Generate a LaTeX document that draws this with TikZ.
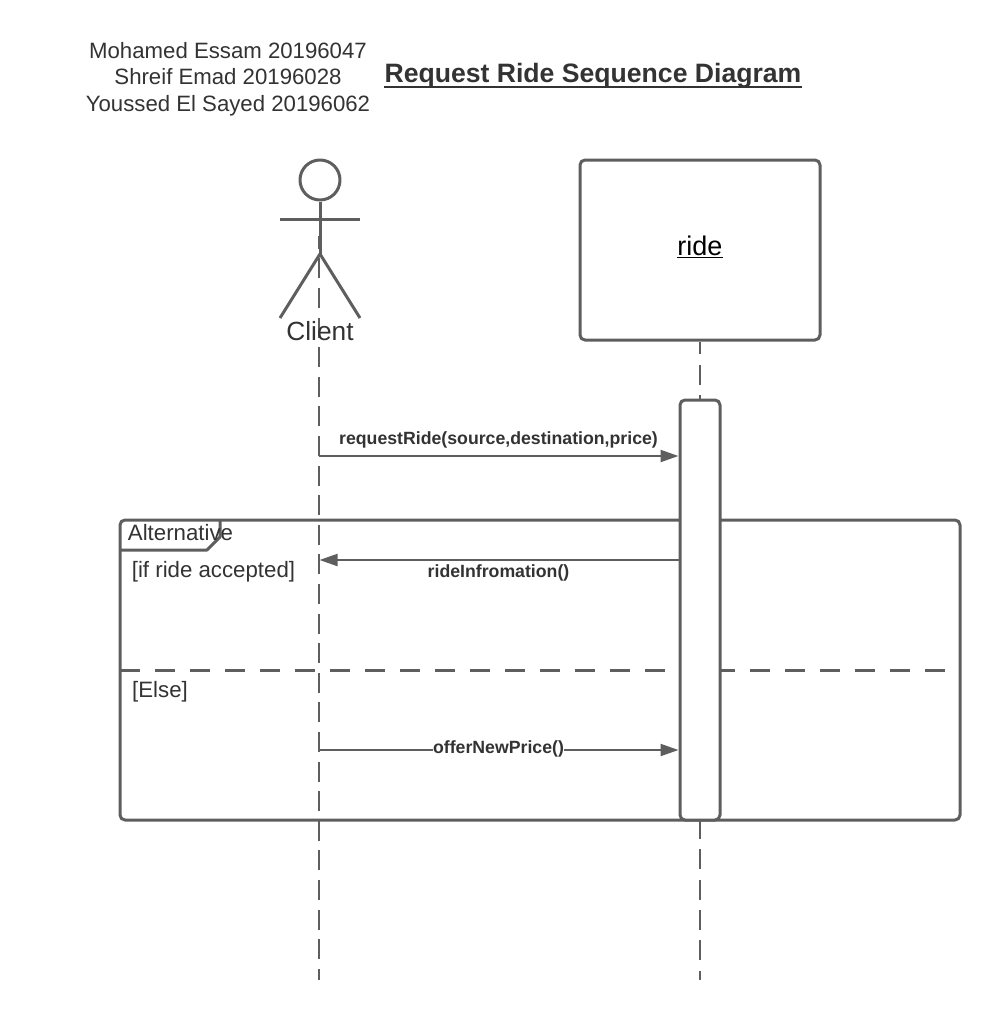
\documentclass[tikz,border=0pt]{standalone}
\usepackage{fontspec}
\setmainfont{Liberation Sans}
\usetikzlibrary{arrows.meta}
\definecolor{ln}{HTML}{5E5E5E}
\definecolor{tx}{HTML}{333333}
\tikzset{
  x=1pt,y=-1pt,
  frameline/.style={draw=ln,line width=3pt,line join=round},
  lifeline/.style={draw=ln,line width=2pt},
  msg/.style={draw=ln,line width=2pt,-{Triangle[length=18pt,width=12pt,fill=ln]},shorten >=1.5pt},
  lbl/.style={inner sep=0pt,text=tx,font=\fontsize{22.25}{26.7}\selectfont,anchor=base},
  msglbl/.style={inner sep=0pt,text=tx,font=\fontsize{17.7}{20}\selectfont\bfseries,anchor=base},
}
\begin{document}
\begin{tikzpicture}
\useasboundingbox[fill=white] (0,0) rectangle (1000,1020);
% title
\node[lbl,align=center,anchor=north,font=\fontsize{22.2}{26.7}\selectfont] (authors) at (228,42) {Mohamed Essam 20196047\\Shreif Emad 20196028\\Youssed El Sayed 20196062};
\node[lbl,font=\fontsize{26.6}{30}\selectfont\bfseries] (title) at (593,82) {Request Ride Sequence Diagram};
\draw[draw=tx,line width=2.5pt] (title.base west) ++(0,5) -- ([yshift=-5pt]title.base east);
% coordinates
\coordinate (clientTop) at (319,236);
\coordinate (clientEnd) at (319,980);
\coordinate (rideEnd) at (700,980);
\coordinate (sep1) at (120,670);
\coordinate (sep2) at (960,670);
% fragment
\draw[frameline,rounded corners=5pt] (120,520) rectangle (960,820);
\draw[frameline] (120,550) -- (207,550) -- (220,537) -- (220,520);
\draw[draw=ln,line width=3pt,dash pattern=on 20pt off 15pt] (sep1) -- (sep2);
\node[lbl] (alt) at (180.5,540) {Alternative};
\node[lbl] (cond1) at (213.5,577) {[if ride accepted]};
\node[lbl] (cond2) at (160,697) {[Else]};
% ride object
\node[frameline,rounded corners=5pt,fill=white,minimum width=240pt,minimum height=180pt,inner sep=0pt,text=black,font=\fontsize{27}{30}\selectfont] (ride) at (700,250) {\raisebox{3pt}[\height][\depth]{\underline{ride}}};
\draw[lifeline,dash pattern=on 20pt off 10.3pt,dash phase=7.3pt] (ride.south) -- (rideEnd);
\node[frameline,rounded corners=5pt,fill=white,minimum width=40pt,minimum height=420pt,inner sep=0pt] (act) at (700,610) {};
% actor
\node[frameline,circle,minimum size=40pt,inner sep=0pt] (head) at (320,180) {};
\coordinate (hip) at (320,254);
\coordinate (armL) at (280,219);
\coordinate (armR) at (360,219);
\coordinate (footL) at (280,318);
\coordinate (footR) at (360,318);
\draw[frameline] (head.south) -- (hip);
\draw[frameline] (armL) -- (armR);
\draw[frameline] (footL) -- (hip) -- (footR);
\draw[lifeline,dash pattern=on 20pt off 9.6pt,dash phase=7.2pt] (clientTop) -- (clientEnd);
\node[lbl,font=\fontsize{26.3}{30}\selectfont] (client) at (320,340) {Client};
% messages
\coordinate (m1s) at (319,456);
\coordinate (m1e) at (680,456);
\coordinate (m2s) at (680,560);
\coordinate (m2e) at (319,560);
\coordinate (m3s) at (319,750);
\coordinate (m3e) at (680,750);
\draw[msg] (m1s) -- (m1e);
\node[msglbl] (l1) at (498.5,444.5) {requestRide(source,destination,price)};
\draw[msg,shorten >=0.5pt] (m2s) -- (m2e);
\node[msglbl] (l2) at (498.5,577.5) {rideInfromation()};
\draw[msg] (m3s) -- (m3e);
\node[msglbl,fill=white,inner xsep=0pt,inner ysep=1pt] (l3) at (498.5,753.5) {offerNewPrice()};
\end{tikzpicture}
\end{document}
